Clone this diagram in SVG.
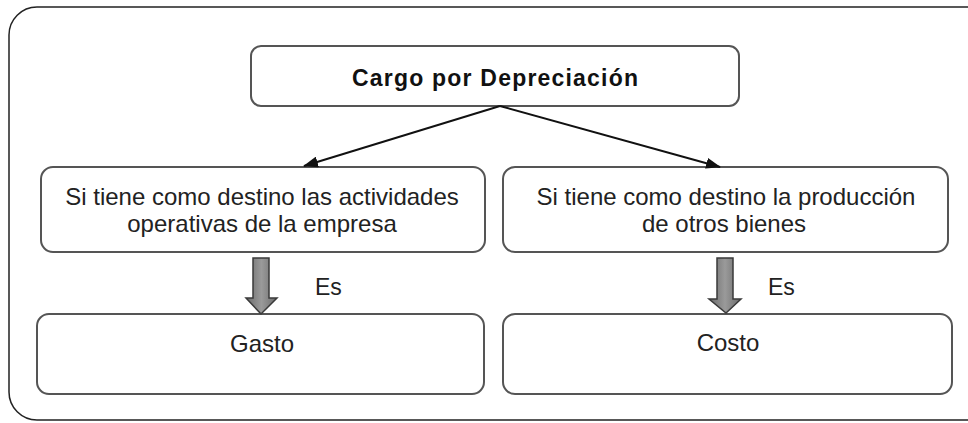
<svg xmlns="http://www.w3.org/2000/svg" width="968" height="423" viewBox="0 0 968 423">
<style>
.box{fill:#fff;stroke:#555;stroke-width:2}
.t{font-family:"Liberation Sans",Arial,sans-serif;font-size:24px;fill:#222;text-anchor:middle}
.tb{font-family:"Liberation Sans",Arial,sans-serif;font-size:23px;font-weight:bold;fill:#111;text-anchor:middle}
.es{font-family:"Liberation Sans",Arial,sans-serif;font-size:23px;fill:#222}
.conn{stroke:#111;stroke-width:2;fill:none}
.blk{fill:url(#g);stroke:#3a3a3a;stroke-width:1.5}
</style>
<defs>
<linearGradient id="g" x1="0" y1="0" x2="1" y2="0">
<stop offset="0" stop-color="#6a6a6a"/>
<stop offset="0.5" stop-color="#9a9a9a"/>
<stop offset="1" stop-color="#6a6a6a"/>
</linearGradient>
<marker id="ah" markerWidth="15" markerHeight="11" refX="14" refY="5.5" orient="auto" markerUnits="userSpaceOnUse" viewBox="0 0 15 11">
<path d="M0,0 L15,5.5 L0,11 z" fill="#111"/>
</marker>
</defs>
<rect id="frame" x="9" y="7" width="985" height="413" rx="28" fill="none" stroke="#222" stroke-width="1.5"/>
<g id="n-cargo">
<rect class="box" x="251" y="46" width="488" height="60" rx="10"/>
<text class="tb" x="495" y="86" textLength="286" lengthAdjust="spacing">Cargo por Depreciación</text>
</g>
<g id="n-operativas">
<rect class="box" x="41" y="167" width="444" height="85" rx="12"/>
<text class="t" x="262" y="205">Si tiene como destino las actividades</text>
<text class="t" x="262" y="232">operativas de la empresa</text>
</g>
<g id="n-produccion">
<rect class="box" x="503" y="167" width="445" height="85" rx="12"/>
<text class="t" x="726" y="205">Si tiene como destino la producción</text>
<text class="t" x="724" y="232">de otros bienes</text>
</g>
<g id="n-gasto">
<rect class="box" x="37" y="314" width="447" height="80" rx="12"/>
<text class="t" x="262" y="352">Gasto</text>
</g>
<g id="n-costo">
<rect class="box" x="503" y="314" width="449" height="80" rx="12"/>
<text class="t" x="728" y="351">Costo</text>
</g>
<g id="connectors">
<line class="conn" x1="500" y1="106" x2="304" y2="166" marker-end="url(#ah)"/>
<line class="conn" x1="500" y1="106" x2="720" y2="167" marker-end="url(#ah)"/>
<path class="blk" d="M253,258 H269 V298 H277 L261,314 L246,298 H253 Z"/>
<path class="blk" d="M717,258 H733 V299 H741 L726,313 L709,299 H717 Z"/>
<text class="es" x="315" y="295">Es</text>
<text class="es" x="768" y="295">Es</text>
</g>
</svg>
